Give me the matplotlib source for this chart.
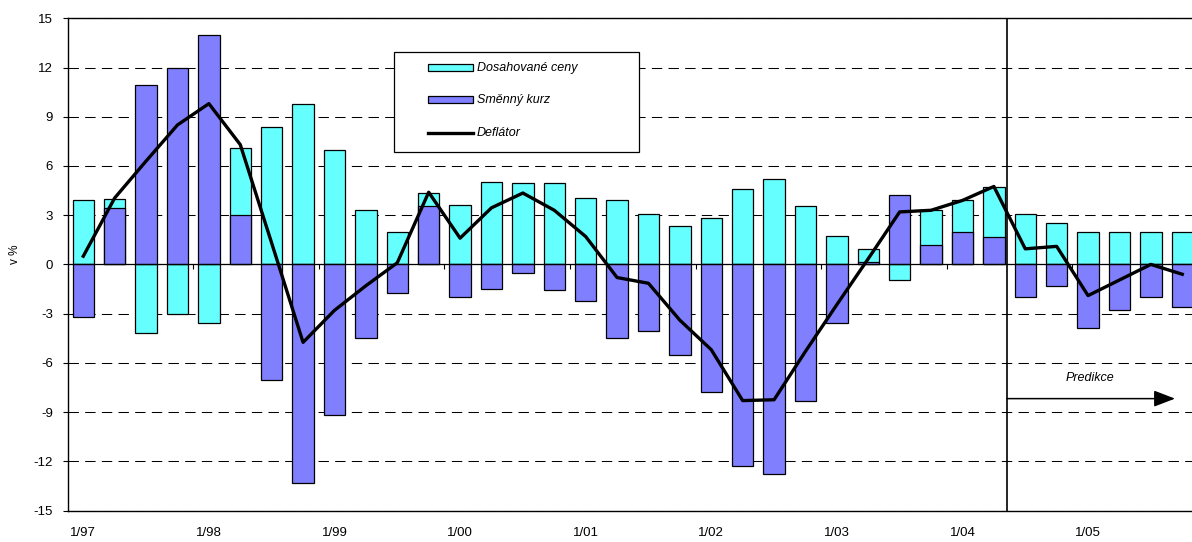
import numpy as np
import matplotlib
matplotlib.use("Agg")
import matplotlib.pyplot as plt
from matplotlib.patches import Rectangle
from matplotlib.lines import Line2D

plt.rcParams['font.family'] = ['Liberation Sans', 'DejaVu Sans']
plt.rcParams['axes.unicode_minus'] = False

# quarterly data 1/97 .. 4/05 (v %)
ceny = [3.9, 4.0, -4.2, -3.05, -3.55, 7.1, 8.4, 9.8, 6.95, 3.3, 2.0, 4.35,
        3.65, 5.0, 4.95, 4.95, 4.05, 3.95, 3.1, 2.35, 2.85, 4.6, 5.2, 3.55,
        1.75, 0.95, -0.95, 3.3, 3.9, 4.7, 3.05, 2.5, 2.0, 2.0, 2.0, 2.0]
kurz = [-3.2, 3.45, 10.95, 12.0, 14.0, 3.0, -7.05, -13.3, -9.15, -4.5, -1.75, 3.55,
        -2.0, -1.5, -0.5, -1.55, -2.25, -4.5, -4.05, -5.55, -7.8, -12.3, -12.75, -8.35,
        -3.55, 0.15, 4.25, 1.2, 2.0, 1.65, -2.0, -1.3, -3.85, -2.8, -2.0, -2.6]
deflator = [0.5, 4.05, 6.3, 8.5, 9.8, 7.3, 1.3, -4.75, -2.8, -1.3, 0.1, 4.4,
            1.6, 3.45, 4.35, 3.3, 1.7, -0.8, -1.15, -3.4, -5.2, -8.3, -8.25, -5.3,
            -2.45, 0.35, 3.2, 3.3, 3.9, 4.75, 0.95, 1.1, -1.9, -0.95, 0.0, -0.6]
year_labels = ['1/97', '1/98', '1/99', '1/00', '1/01', '1/02', '1/03', '1/04', '1/05']
legend_labels = ['Dosahované ceny', 'Směnný kurz', 'Deflátor']
pred_start = 29.41  # break between data and prediction

CYAN = '#66FFFF'
PURPLE = '#8080FF'
W, H = 1192, 542

fig = plt.figure(figsize=(W / 100, H / 100), dpi=100)
ax = fig.add_axes([0.0567, 0.0581, 0.9483, 0.9081])

x = np.arange(len(deflator))
ax.bar(x, ceny, width=0.68, color=CYAN, edgecolor='k', linewidth=0.9, zorder=2)
ax.bar(x, kurz, width=0.68, color=PURPLE, edgecolor='k', linewidth=0.9, zorder=3)
ax.axhline(0, color='k', lw=0.9, zorder=3.5)
ax.plot(x, deflator, color='k', lw=2.4, zorder=4)

# small category-axis tick marks on the zero line
ax.vlines(np.arange(3.5, 32, 4), -0.28, 0, color='k', lw=0.8, zorder=3.5)

ax.set_xlim(-0.5, 35.5)
ax.set_ylim(-15, 15)
ax.set_yticks(np.arange(-15, 16, 3))
ax.set_xticks(np.arange(0, 36, 4))
ax.set_xticklabels(year_labels)
ax.tick_params(axis='y', direction='out', length=3.6, width=0.8, pad=7, labelsize=9.5)
ax.tick_params(axis='x', length=0, pad=12, labelsize=9.5)

ax.set_axisbelow(True)
ax.grid(axis='y', color='k', lw=0.75, ls=(0, (10, 6)))
for s in ['left', 'top', 'bottom']:
    ax.spines[s].set_linewidth(1.0)
ax.spines['right'].set_visible(False)

# prediction marker
ax.axvline(pred_start, color='k', lw=1.2, zorder=5)
ax.annotate('', xy=(34.77, -8.18), xytext=(pred_start, -8.18),
            arrowprops=dict(arrowstyle='-|>,head_length=1.3,head_width=0.5',
                            color='k', lw=1.1, shrinkA=0, shrinkB=0))
ax.text(32.06, -6.92, 'Predikce', ha='center', va='center', style='italic', size=9)

fig.text(15 / W, 1 - 254 / H, 'v %', rotation=90, ha='center', va='center', size=8.5)

# legend box
fig.add_artist(Rectangle((394 / W, 1 - 152 / H), 245 / W, 100 / H, transform=fig.transFigure,
                         facecolor='white', edgecolor='k', lw=0.9, zorder=10))
rows = [67.7, 99.5, 133]
for i, (lab, y) in enumerate(zip(legend_labels, rows)):
    yf = 1 - y / H
    if i < 2:
        fig.add_artist(Rectangle((428 / W, yf - 3.5 / H), 45 / W, 7 / H, transform=fig.transFigure,
                                 facecolor=[CYAN, PURPLE][i], edgecolor='k', lw=0.9, zorder=11))
    else:
        fig.add_artist(Line2D([428 / W, 473 / W], [yf, yf], transform=fig.transFigure,
                              color='k', lw=2.4, zorder=11))
    fig.text(477 / W, yf, lab, ha='left', va='center', style='italic', size=9, zorder=12)

fig.savefig('out.png', dpi=100)
